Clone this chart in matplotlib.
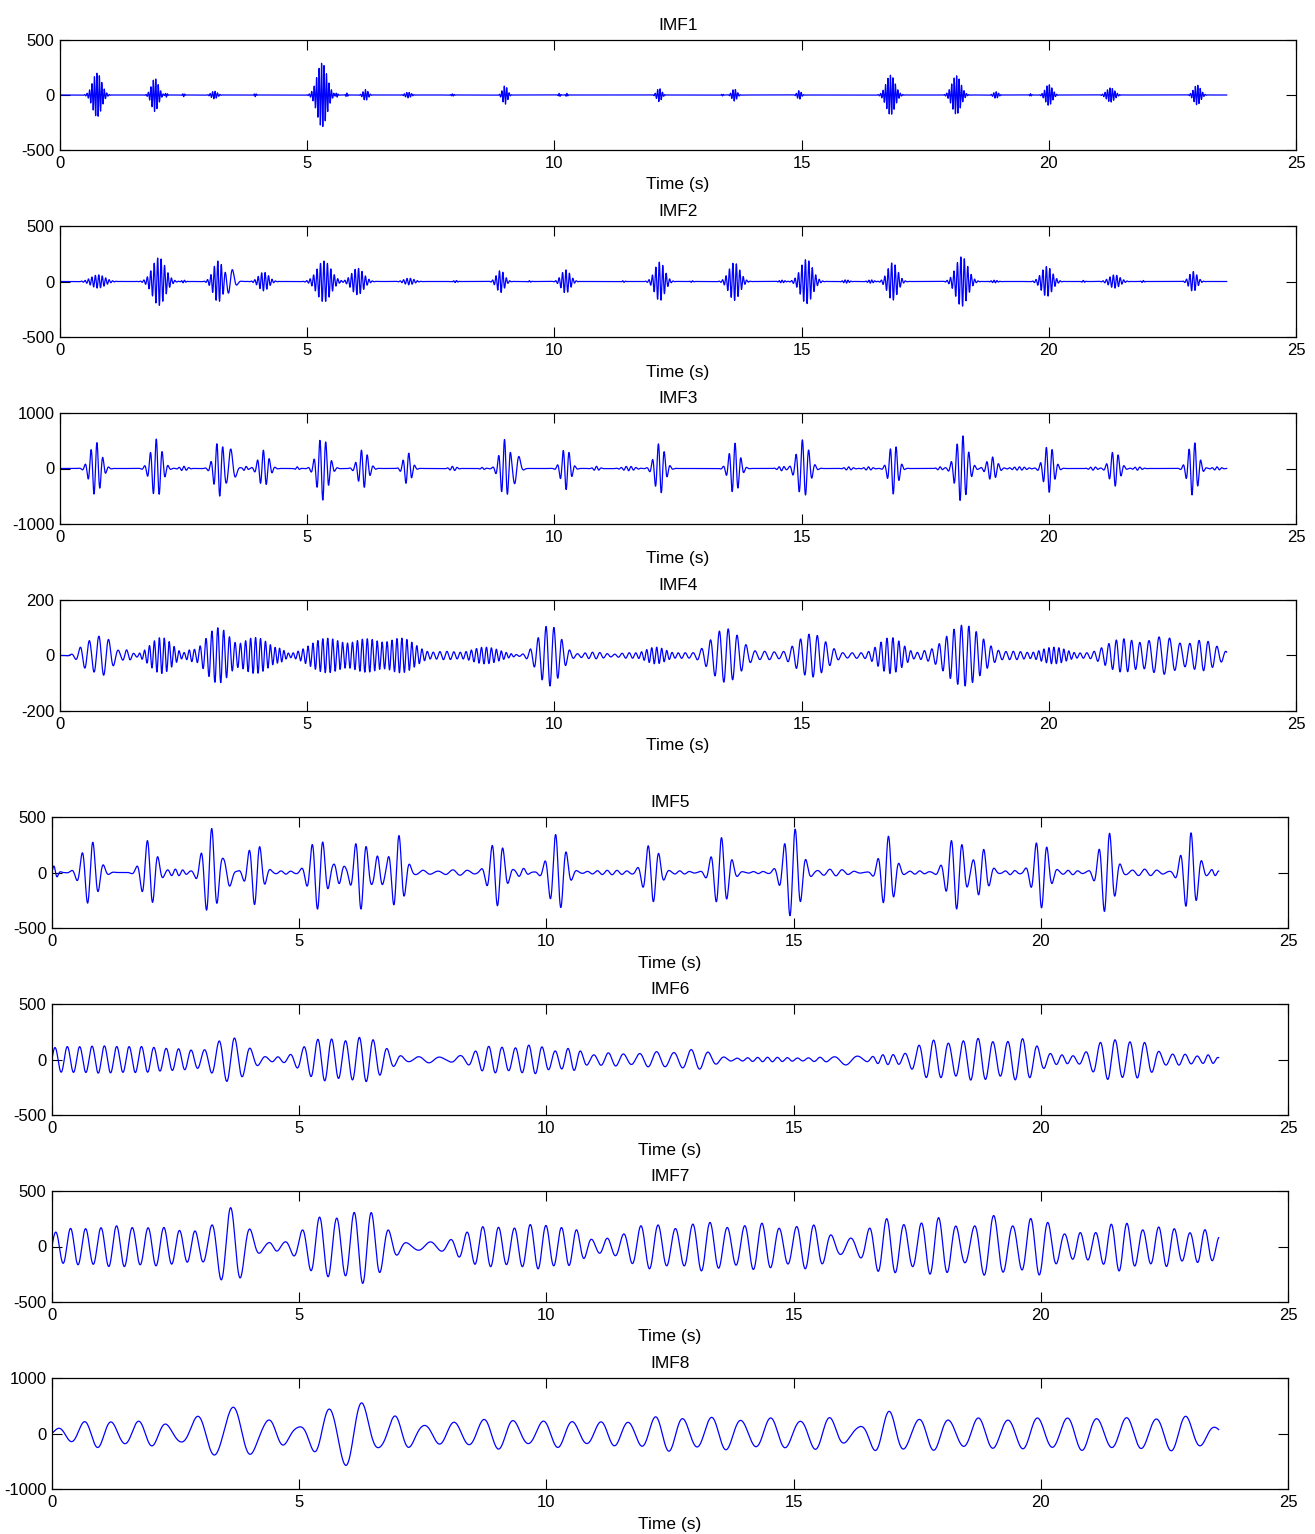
import numpy as np
import matplotlib
matplotlib.use("Agg")
import matplotlib.pyplot as plt

plt.rcParams['font.family'] = ['Liberation Sans Narrow', 'Liberation Sans', 'DejaVu Sans']
plt.rcParams['axes.unicode_minus'] = False

# sampling of the reconstructed IMFs
FS = 400.0
T_END = 23.6

# wave packets per IMF: (centre time s, peak amplitude, period s, envelope width s)
IMF1_BURSTS = [(0.75, 200, 0.05, 0.09), (1.92, 150, 0.05, 0.07), (2.15, 20, 0.04, 0.02),
               (2.5, 15, 0.04, 0.02), (3.12, 35, 0.05, 0.06), (3.95, 15, 0.04, 0.02),
               (5.3, 290, 0.05, 0.1), (5.6, 20, 0.04, 0.02), (5.8, 18, 0.04, 0.02),
               (6.18, 50, 0.05, 0.05), (7.04, 25, 0.05, 0.06), (7.94, 10, 0.04, 0.03),
               (9.0, 85, 0.05, 0.05), (10.1, 15, 0.04, 0.02), (10.25, 15, 0.04, 0.02),
               (12.12, 60, 0.05, 0.05), (13.4, 8, 0.04, 0.02), (13.64, 55, 0.05, 0.05),
               (14.95, 40, 0.05, 0.04), (16.8, 180, 0.05, 0.09), (18.13, 175, 0.05, 0.09),
               (18.93, 30, 0.05, 0.05), (19.63, 12, 0.04, 0.02), (20.0, 95, 0.05, 0.07),
               (21.25, 65, 0.05, 0.08), (23.0, 90, 0.05, 0.07)]

IMF2_BURSTS = [(0.77, 60, 0.07, 0.14), (2.0, 215, 0.07, 0.13), (2.5, 12, 0.06, 0.04),
               (3.2, 185, 0.07, 0.1), (3.45, 120, 0.2, 0.08), (4.12, 85, 0.07, 0.1),
               (5.34, 185, 0.07, 0.14), (6.02, 120, 0.07, 0.12), (7.06, 30, 0.07, 0.1),
               (8.0, 10, 0.06, 0.04), (8.91, 100, 0.07, 0.08), (9.5, 8, 0.06, 0.03),
               (10.23, 105, 0.07, 0.09), (11.4, 8, 0.06, 0.03), (12.13, 175, 0.07, 0.1),
               (12.78, 8, 0.06, 0.03), (13.64, 170, 0.07, 0.11), (14.6, 12, 0.06, 0.06),
               (15.1, 200, 0.07, 0.12), (15.9, 15, 0.06, 0.06), (16.4, 15, 0.06, 0.06),
               (16.84, 170, 0.07, 0.1), (18.24, 225, 0.07, 0.12), (18.9, 12, 0.06, 0.06),
               (19.96, 135, 0.07, 0.11), (20.7, 10, 0.06, 0.03), (21.33, 60, 0.07, 0.11),
               (21.9, 10, 0.06, 0.03), (22.92, 90, 0.07, 0.08)]

IMF3_BURSTS = [(0.72, 480, 0.12, 0.11), (1.95, 530, 0.12, 0.11), (2.5, 40, 0.1, 0.08),
               (3.22, 500, 0.12, 0.1), (3.45, 350, 0.22, 0.08), (3.75, 40, 0.1, 0.05),
               (4.12, 330, 0.12, 0.1), (4.8, 30, 0.1, 0.04), (5.31, 570, 0.12, 0.11),
               (6.13, 350, 0.12, 0.1), (7.03, 290, 0.12, 0.08), (7.95, 40, 0.1, 0.07),
               (8.55, 20, 0.1, 0.05), (9.0, 525, 0.12, 0.1), (9.23, 300, 0.22, 0.07),
               (10.23, 380, 0.12, 0.09), (10.85, 40, 0.1, 0.06), (11.5, 40, 0.1, 0.12),
               (12.13, 460, 0.12, 0.1), (13.64, 460, 0.12, 0.1), (14.6, 40, 0.1, 0.08),
               (15.03, 520, 0.13, 0.12), (15.95, 30, 0.1, 0.08), (16.35, 30, 0.1, 0.08),
               (16.86, 460, 0.12, 0.09), (17.8, 30, 0.1, 0.06), (18.24, 600, 0.12, 0.12),
               (18.85, 210, 0.12, 0.1), (19.4, 30, 0.1, 0.15), (20.0, 430, 0.12, 0.1),
               (20.9, 30, 0.1, 0.08), (21.33, 320, 0.12, 0.1), (21.8, 30, 0.1, 0.08),
               (22.92, 490, 0.12, 0.1), (23.4, 30, 0.1, 0.08)]

IMF4_BURSTS = [(0.55, 45, 0.18, 0.15), (0.85, 72, 0.2, 0.2), (1.35, 20, 0.15, 0.1),
               (2.05, 65, 0.1, 0.22), (2.65, 20, 0.1, 0.1), (3.2, 100, 0.12, 0.25),
               (3.95, 65, 0.1, 0.3), (4.45, 20, 0.08, 0.1), (5.4, 62, 0.1, 0.35),
               (6.2, 60, 0.1, 0.35), (6.9, 62, 0.1, 0.3), (7.8, 15, 0.15, 0.3),
               (8.6, 30, 0.1, 0.3), (9.9, 110, 0.16, 0.22), (10.8, 12, 0.15, 0.25),
               (11.5, 10, 0.15, 0.2), (12.05, 30, 0.1, 0.22), (12.6, 10, 0.15, 0.2),
               (13.47, 97, 0.18, 0.3), (14.3, 15, 0.2, 0.25), (15.2, 78, 0.17, 0.3),
               (16.1, 10, 0.2, 0.25), (16.8, 65, 0.12, 0.25), (17.5, 15, 0.15, 0.15),
               (18.28, 110, 0.15, 0.36), (19.3, 15, 0.15, 0.3), (20.1, 30, 0.1, 0.28),
               (20.7, 8, 0.15, 0.15), (21.5, 60, 0.15, 0.35), (22.3, 68, 0.22, 0.35),
               (23.1, 55, 0.18, 0.3)]

IMF5_BURSTS = [(0.05, 60, 0.15, 0.06), (0.77, 290, 0.22, 0.16), (1.97, 300, 0.22, 0.14),
               (2.5, 30, 0.15, 0.2), (3.21, 400, 0.22, 0.15), (3.55, 150, 0.35, 0.08),
               (4.11, 290, 0.22, 0.14), (4.7, 15, 0.2, 0.2), (5.38, 330, 0.22, 0.16),
               (5.8, 100, 0.22, 0.1), (6.24, 330, 0.22, 0.14), (6.6, 150, 0.22, 0.1),
               (6.99, 340, 0.22, 0.14), (7.5, 20, 0.3, 0.2), (8.2, 25, 0.3, 0.3),
               (9.0, 300, 0.22, 0.15), (9.5, 40, 0.2, 0.1), (10.22, 350, 0.22, 0.16),
               (11.3, 20, 0.2, 0.4), (12.13, 270, 0.22, 0.15), (12.7, 15, 0.2, 0.2),
               (13.53, 315, 0.22, 0.16), (14.3, 10, 0.2, 0.2), (14.98, 410, 0.22, 0.17),
               (15.8, 30, 0.25, 0.3), (16.9, 330, 0.22, 0.14), (17.5, 15, 0.2, 0.2),
               (18.28, 330, 0.22, 0.17), (18.8, 220, 0.22, 0.14), (19.4, 20, 0.2, 0.15),
               (20.0, 320, 0.22, 0.15), (20.6, 20, 0.2, 0.2), (21.34, 375, 0.22, 0.15),
               (22.1, 30, 0.25, 0.3), (23.02, 360, 0.22, 0.15), (23.5, 30, 0.15, 0.08)]

IMF6_BURSTS = [(0.2, 110, 0.25, 0.5), (1.0, 115, 0.25, 0.5), (1.8, 110, 0.25, 0.5),
               (2.6, 90, 0.25, 0.5), (3.6, 200, 0.32, 0.35), (4.55, 20, 0.2, 0.15),
               (5.5, 190, 0.28, 0.4), (6.3, 200, 0.28, 0.4), (7.6, 30, 0.45, 0.3),
               (8.2, 30, 0.5, 0.15), (8.9, 120, 0.27, 0.35), (9.7, 130, 0.27, 0.4),
               (10.5, 100, 0.25, 0.25), (11.3, 60, 0.3, 0.35), (12.2, 70, 0.35, 0.4),
               (13.0, 90, 0.35, 0.35), (14.5, 20, 0.2, 0.6), (15.6, 20, 0.25, 0.3),
               (16.1, 50, 0.7, 0.2), (16.9, 45, 0.2, 0.3), (17.8, 170, 0.3, 0.35),
               (18.7, 190, 0.3, 0.5), (19.6, 185, 0.3, 0.35), (20.4, 40, 0.2, 0.3),
               (21.4, 180, 0.3, 0.35), (22.0, 160, 0.3, 0.3), (22.8, 50, 0.25, 0.35),
               (23.4, 40, 0.2, 0.15)]

IMF7_BURSTS = [(0.4, 160, 0.3, 0.5), (1.3, 180, 0.32, 0.5), (2.2, 170, 0.32, 0.5),
               (2.9, 120, 0.3, 0.3), (3.6, 350, 0.4, 0.32), (4.5, 40, 0.3, 0.15),
               (5.5, 270, 0.35, 0.4), (6.3, 330, 0.35, 0.4), (7.6, 40, 0.6, 0.3),
               (8.8, 180, 0.32, 0.5), (9.8, 200, 0.32, 0.5), (10.5, 150, 0.3, 0.3),
               (11.2, 60, 0.3, 0.2), (12.1, 200, 0.35, 0.5), (13.2, 220, 0.35, 0.5),
               (14.3, 210, 0.35, 0.5), (15.3, 200, 0.35, 0.4), (16.1, 60, 0.5, 0.2),
               (16.9, 250, 0.35, 0.4), (17.9, 260, 0.35, 0.45), (19.0, 280, 0.4, 0.35),
               (19.9, 260, 0.35, 0.4), (20.8, 120, 0.3, 0.3), (21.6, 220, 0.32, 0.4),
               (22.5, 180, 0.32, 0.4), (23.3, 150, 0.3, 0.3)]

IMF8_BURSTS = [(0.3, 100, 0.5, 0.3), (0.9, 250, 0.55, 0.4), (1.9, 230, 0.55, 0.5),
               (3.2, 380, 0.7, 0.4), (3.8, 480, 0.8, 0.3), (4.5, 250, 0.6, 0.3),
               (5.5, 400, 0.6, 0.3), (6.1, 620, 0.7, 0.35), (7.0, 320, 0.6, 0.3),
               (8.0, 200, 0.6, 0.5), (9.0, 280, 0.6, 0.5), (10.2, 250, 0.6, 0.5),
               (11.3, 220, 0.55, 0.5), (12.4, 320, 0.55, 0.5), (13.5, 300, 0.6, 0.5),
               (14.6, 280, 0.6, 0.5), (15.6, 300, 0.6, 0.4), (16.9, 400, 0.6, 0.35),
               (17.8, 300, 0.6, 0.4), (18.8, 280, 0.6, 0.5), (19.8, 280, 0.6, 0.5),
               (20.8, 300, 0.6, 0.5), (21.8, 280, 0.6, 0.5), (22.8, 320, 0.6, 0.5)]

IMF_NAMES = ['IMF1', 'IMF2', 'IMF3', 'IMF4', 'IMF5', 'IMF6', 'IMF7', 'IMF8']
IMF_BURSTS = [IMF1_BURSTS, IMF2_BURSTS, IMF3_BURSTS, IMF4_BURSTS,
              IMF5_BURSTS, IMF6_BURSTS, IMF7_BURSTS, IMF8_BURSTS]
Y_LIMITS = [500, 500, 1000, 200, 500, 500, 500, 1000]
X_TICKS = [0, 5, 10, 15, 20, 25]


def synth(bursts):
    """Build one IMF as a chain of gaussian wave packets sharing a continuous phase."""
    t = np.arange(0, T_END, 1 / FS)
    c, a, p, w = np.array(bursts, dtype=float).T
    g = a * np.exp(-0.5 * ((t[:, None] - c) / w) ** 2)
    env = np.sqrt((g ** 2).sum(axis=1))
    wts = g + 1e-9
    freq = (wts / p).sum(axis=1) / wts.sum(axis=1)
    phase = 2 * np.pi * np.cumsum(freq) / FS
    return t, env * np.sin(phase)


W, H = 1315, 1534
fig = plt.figure(figsize=(W / 100, H / 100), dpi=100)

# axes boxes in pixels: (left, top, right, bottom)
boxes = [(60, 40, 1296, 150), (60, 226, 1296, 337), (60, 413, 1296, 524), (60, 600, 1296, 711),
         (52, 817, 1288, 928), (52, 1004, 1288, 1115), (52, 1191, 1288, 1302), (52, 1378, 1288, 1489)]

for name, bursts, ylim, (x0, y0, x1, y1) in zip(IMF_NAMES, IMF_BURSTS, Y_LIMITS, boxes):
    ax = fig.add_axes([x0 / W, 1 - y1 / H, (x1 - x0) / W, (y1 - y0) / H])
    t, s = synth(bursts)
    ax.plot(t, s, color='#0000ff', lw=0.9)
    ax.set_xlim(0, 25)
    ax.set_ylim(-ylim, ylim)
    ax.set_xticks(X_TICKS)
    ax.set_yticks([-ylim, 0, ylim])
    ax.tick_params(direction='in', top=True, right=True, length=7, width=0.8,
                   labelsize=12, pad=4)
    for sp in ax.spines.values():
        sp.set_linewidth(0.9)
    ax.set_title(name, fontsize=12.5, pad=7)
    ax.set_xlabel('Time (s)', fontsize=12.5, labelpad=5)

fig.savefig('out.png', dpi=100)
